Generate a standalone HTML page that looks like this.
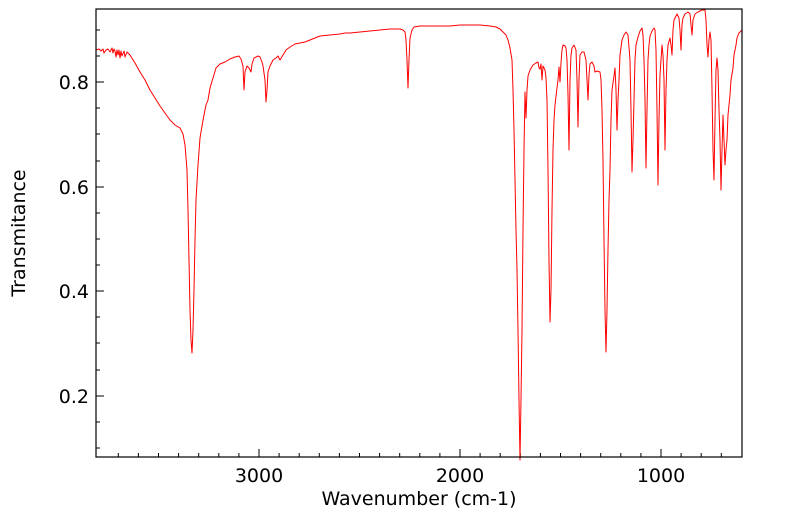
<!DOCTYPE html>
<html><head><meta charset="utf-8"><style>
html,body{margin:0;padding:0;background:#fff;}
svg{display:block;font-family:"DejaVu Sans","Liberation Sans",sans-serif;}
</style></head><body>
<svg width="799" height="516" viewBox="0 0 799 516" xmlns="http://www.w3.org/2000/svg">
<rect x="0" y="0" width="799" height="516" fill="#fff"/>
<g stroke="#000" stroke-width="1">
<line x1="96" y1="82" x2="104" y2="82"/><line x1="96" y1="187" x2="104" y2="187"/>
<line x1="96" y1="291" x2="104" y2="291"/><line x1="96" y1="396" x2="104" y2="396"/>
<line x1="96" y1="30" x2="100" y2="30"/><line x1="96" y1="56" x2="100" y2="56"/>
<line x1="96" y1="108" x2="100" y2="108"/><line x1="96" y1="134" x2="100" y2="134"/>
<line x1="96" y1="161" x2="100" y2="161"/><line x1="96" y1="213" x2="100" y2="213"/>
<line x1="96" y1="239" x2="100" y2="239"/><line x1="96" y1="265" x2="100" y2="265"/>
<line x1="96" y1="317" x2="100" y2="317"/><line x1="96" y1="343" x2="100" y2="343"/>
<line x1="96" y1="370" x2="100" y2="370"/><line x1="96" y1="422" x2="100" y2="422"/>
<line x1="96" y1="448" x2="100" y2="448"/>
<line x1="259" y1="457" x2="259" y2="449"/><line x1="460" y1="457" x2="460" y2="449"/><line x1="661" y1="457" x2="661" y2="449"/>
</g>
<g stroke="#000" stroke-width="1">
<line x1="118.3" y1="457" x2="118.3" y2="453"/><line x1="138.4" y1="457" x2="138.4" y2="453"/><line x1="158.5" y1="457" x2="158.5" y2="453"/><line x1="178.6" y1="457" x2="178.6" y2="453"/><line x1="198.7" y1="457" x2="198.7" y2="453"/><line x1="218.8" y1="457" x2="218.8" y2="453"/><line x1="238.9" y1="457" x2="238.9" y2="453"/>
<line x1="279.1" y1="457" x2="279.1" y2="453"/><line x1="299.2" y1="457" x2="299.2" y2="453"/><line x1="319.3" y1="457" x2="319.3" y2="453"/><line x1="339.4" y1="457" x2="339.4" y2="453"/><line x1="359.5" y1="457" x2="359.5" y2="453"/><line x1="379.6" y1="457" x2="379.6" y2="453"/><line x1="399.7" y1="457" x2="399.7" y2="453"/><line x1="419.8" y1="457" x2="419.8" y2="453"/><line x1="439.9" y1="457" x2="439.9" y2="453"/>
<line x1="480.1" y1="457" x2="480.1" y2="453"/><line x1="500.2" y1="457" x2="500.2" y2="453"/><line x1="520.3" y1="457" x2="520.3" y2="453"/><line x1="540.4" y1="457" x2="540.4" y2="453"/><line x1="560.5" y1="457" x2="560.5" y2="453"/><line x1="580.6" y1="457" x2="580.6" y2="453"/><line x1="600.7" y1="457" x2="600.7" y2="453"/><line x1="620.8" y1="457" x2="620.8" y2="453"/><line x1="640.9" y1="457" x2="640.9" y2="453"/>
<line x1="681.1" y1="457" x2="681.1" y2="453"/><line x1="701.2" y1="457" x2="701.2" y2="453"/><line x1="721.3" y1="457" x2="721.3" y2="453"/>
</g>
<polyline fill="none" stroke="#ff0000" stroke-width="1" stroke-linejoin="round" points="
96,50 99,49 101,51 103,49 104,53 106,50 108,49 110,52 112,48 113,53 114,49 115,51 116,57 117,50 118,55 119,50 120,58 121,51 122,56 124,51 125,57 127,52 130,55 135,63 140,72 145,80 150,90 155,98 160,106 165,113 170,120 175,125 180,128 183,134 185,145 187,170 188,210 189,260 190,310 191,340 192,353 193,330 194,290 195,240 196,200 198,165 200,138 202,126 204,115 206,105 208,100 210,88 213,78 216,68 220,64 225,62 230,59 235,57 239,56 241,59 243,66 244,90 245,72 247,66 249,68 251,72 252,64 254,58 258,56 260,57 262,62 263,66 265,80 266,102 267,90 268,72 270,66 273,60 276,58 278,56 280,60 283,55 286,50 290,47 295,44 300,43 305,42 310,40 315,38 320,36 330,35 340,34 345,33 350,33 360,32 370,31 380,30 390,29 400,29 403,30 405,32 406,40 407,60 408,88 409,60 410,38 412,30 414,27 420,26 430,26 440,26 450,26 460,25 470,25 480,25 490,26 496,27 500,29 503,32 506,35 508,40 510,48 512,60 513,90 514,130 515,180 516,230 517,270 518,330 519,400 520,460 521,400 522,330 523,230 524,150 525,92 526,118 527,90 528,76 530,70 533,65 536,63 538,62 539,68 540,69 541,64 542,80 543,66 545,70 546,78 547,100 548,170 549,260 550,322 551,290 552,210 553,150 554,120 555,105 557,88 558,80 559,67 560,82 561,63 562,50 563,45 565,46 566,48 567,60 568,95 569,150 570,80 571,55 572,48 574,45 576,50 577,80 578,127 579,80 580,55 582,52 584,52 586,60 587,80 588,100 589,75 590,64 592,62 594,66 595,72 597,71 600,72 601,80 602,110 603,160 604,240 605,310 606,352 607,310 608,250 609,200 610,170 611,120 612,90 614,76 615,68 616,90 617,130 618,100 619,80 620,55 622,40 624,35 626,32 628,35 630,60 631,110 632,172 633,140 634,100 635,60 636,45 638,37 640,31 642,28 643,35 644,60 645,100 646,168 647,110 648,60 649,45 650,36 652,31 654,28 655,30 656,50 657,110 658,185 659,120 660,75 661,60 662,45 663,55 664,80 665,150 666,90 667,60 668,45 670,38 671,45 672,55 673,30 674,20 677,14 679,18 680,30 681,50 682,25 683,18 685,14 688,12 690,14 691,25 692,35 693,20 695,14 698,12 702,10 705,10 706,20 707,45 708,57 709,40 710,32 711,40 712,90 713,150 714,180 715,120 716,70 717,58 718,70 719,110 720,140 721,190 722,150 723,115 724,140 725,165 726,150 727,140 728,115 730,95 731,80 733,68 734,55 736,45 737,38 739,33 742,30"/>
<rect x="96" y="9" width="646" height="448" fill="none" stroke="#000" stroke-width="1.2"/>
<g font-size="19" fill="#000" text-anchor="end">
<text x="89" y="89">0.8</text>
<text x="89" y="194">0.6</text>
<text x="89" y="298">0.4</text>
<text x="89" y="403">0.2</text>
</g>
<g font-size="19" fill="#000" text-anchor="middle">
<text x="259" y="482">3000</text>
<text x="460" y="482">2000</text>
<text x="661" y="482">1000</text>
<text x="419" y="505">Wavenumber (cm-1)</text>
<text transform="translate(25,233) rotate(-90)">Transmitance</text>
</g>
</svg>
</body></html>
